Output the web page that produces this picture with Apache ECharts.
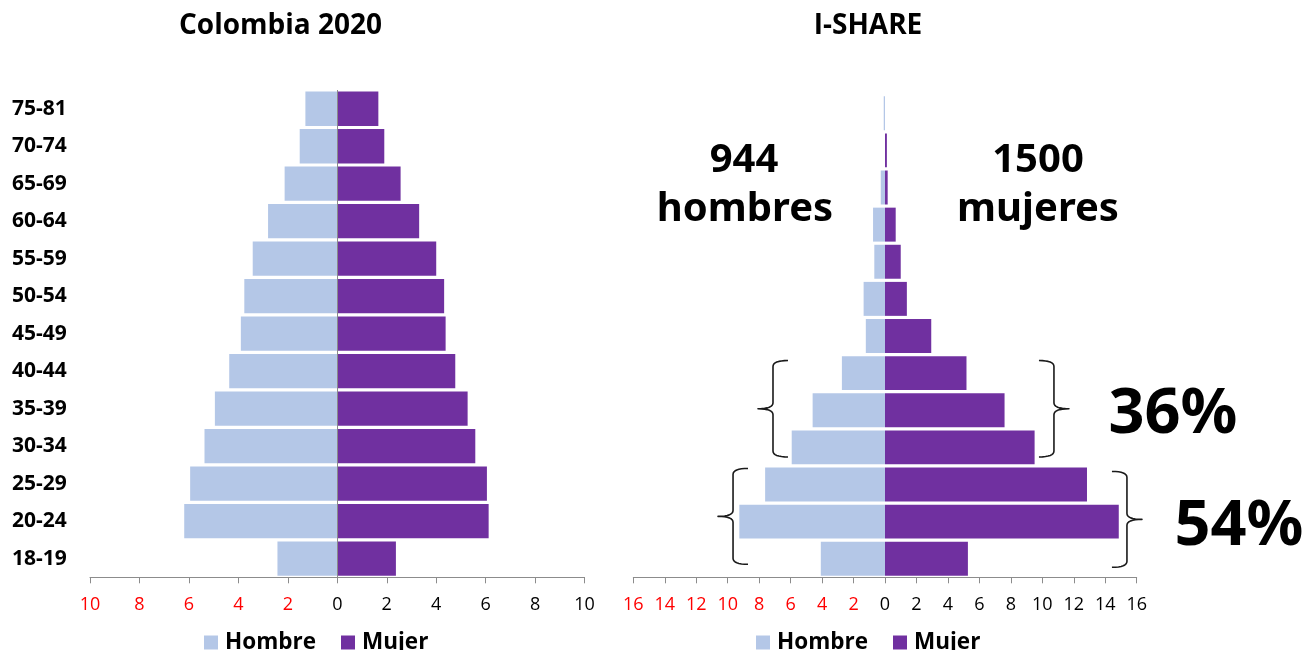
<!DOCTYPE html>
<html>
<head>
<meta charset="utf-8">
<script src="https://cdn.jsdelivr.net/npm/echarts@6/dist/echarts.min.js"></script>
<style>
html,body{margin:0;padding:0;background:#ffffff;}
#c{width:1304px;height:650px;}
</style>
</head>
<body>
<div id="c"></div>
<script>
// Age groups, bottom to top
const categories = ['18-19','20-24','25-29','30-34','35-39','40-44','45-49','50-54','55-59','60-64','65-69','70-74','75-81'];
// Colombia 2020 (% of population)
const colombiaHombre = [2.42, 6.19, 5.95, 5.37, 4.95, 4.37, 3.90, 3.76, 3.42, 2.80, 2.13, 1.52, 1.29];
const colombiaMujer  = [2.37, 6.12, 6.05, 5.58, 5.27, 4.77, 4.38, 4.32, 4.00, 3.31, 2.56, 1.90, 1.66];
// I-SHARE (% of participants)
const ishareHombre = [4.08, 9.26, 7.62, 5.93, 4.60, 2.74, 1.22, 1.36, 0.68, 0.76, 0.27, 0.00, 0.08];
const ishareMujer  = [5.27, 14.86, 12.84, 9.51, 7.60, 5.18, 2.94, 1.39, 1.00, 0.68, 0.17, 0.12, 0.00];
// Axis ticks
const colombiaTicks = [-10, -8, -6, -4, -2, 0, 2, 4, 6, 8, 10];
const ishareTicks = [-16, -14, -12, -10, -8, -6, -4, -2, 0, 2, 4, 6, 8, 10, 12, 14, 16];
const legendNames = ['Hombre', 'Mujer'];
const titles = ['Colombia 2020', 'I-SHARE'];
const annotations = ['944', 'hombres', '1500', 'mujeres', '36%', '54%'];

const C_H = '#B4C7E7';
const C_M = '#7030A0';
const AXIS_GRAY = '#8c8c8c';

const chart = echarts.init(document.getElementById('c'), null, {renderer: 'canvas'});

function xAxisCfg(gridIndex, ticks) {
  return {
    type: 'value', gridIndex: gridIndex,
    min: ticks[0], max: ticks[ticks.length - 1], interval: ticks[1] - ticks[0],
    axisLine: {show: true, onZero: false, lineStyle: {color: AXIS_GRAY, width: 1}},
    axisTick: {show: true, length: 6, lineStyle: {color: AXIS_GRAY}},
    splitLine: {show: false},
    axisLabel: {
      margin: 19, fontSize: 18, fontFamily: 'Open Sans',
      formatter: function (v) { return String(Math.abs(v)); },
      color: function (v) { return Number(v) < 0 ? '#FF0000' : '#000000'; }
    }
  };
}

function legendCfg(left) {
  return {
    left: left, top: 631, padding: 0, orient: 'horizontal',
    itemWidth: 14, itemHeight: 14, itemGap: 25, icon: 'rect',
    data: legendNames, selectedMode: false,
    textStyle: {fontFamily: 'Open Sans', fontWeight: 'bold', fontSize: 22.5, color: '#000', padding: [0, 0, 0, 2]}
  };
}

const option = {
  animation: false,
  backgroundColor: '#ffffff',
  grid: [
    {left: 90, top: 90, width: 494.6, height: 487.3, containLabel: false},
    {left: 633.3, top: 94.7, width: 503.4, height: 482.6, containLabel: false}
  ],
  xAxis: [xAxisCfg(0, colombiaTicks), xAxisCfg(1, ishareTicks)],
  yAxis: [
    {
      type: 'category', gridIndex: 0, data: categories,
      axisLine: {show: false}, axisTick: {show: false}, splitLine: {show: false},
      axisLabel: {show: true, align: 'left', margin: 78, fontSize: 21, fontWeight: 'bold', fontFamily: 'Open Sans', color: '#000'}
    },
    {
      type: 'category', gridIndex: 1, data: categories,
      axisLine: {show: false}, axisTick: {show: false}, splitLine: {show: false},
      axisLabel: {show: false}
    }
  ],
  legend: [legendCfg(204), legendCfg(756)],
  series: [
    {
      name: legendNames[0], type: 'bar', xAxisIndex: 0, yAxisIndex: 0, stack: 'col',
      data: colombiaHombre.map(function (v) { return -v; }),
      barCategoryGap: '8.5%', itemStyle: {color: C_H},
      markLine: {
        silent: true, symbol: 'none', label: {show: false},
        lineStyle: {color: '#8a8a8a', width: 1, type: 'solid'},
        data: [{xAxis: 0}]
      }
    },
    {
      name: legendNames[1], type: 'bar', xAxisIndex: 0, yAxisIndex: 0, stack: 'col',
      data: colombiaMujer, barCategoryGap: '8.5%', itemStyle: {color: C_M}
    },
    {
      name: legendNames[0], type: 'bar', xAxisIndex: 1, yAxisIndex: 1, stack: 'ish',
      data: ishareHombre.map(function (v) { return -v; }),
      barCategoryGap: '8.5%', itemStyle: {color: C_H}
    },
    {
      name: legendNames[1], type: 'bar', xAxisIndex: 1, yAxisIndex: 1, stack: 'ish',
      data: ishareMujer, barCategoryGap: '8.5%', itemStyle: {color: C_M}
    }
  ]
};

chart.setOption(option);

// ---- annotations (titles, counts, braces, percentages) ----
function px(v, catIdx) {
  return chart.convertToPixel({xAxisIndex: 1, yAxisIndex: 1}, [v, catIdx]);
}
const band = Math.abs(px(0, 0)[1] - px(0, 1)[1]);

function quad(p0, c, p1, n) {
  const out = [];
  for (let i = 1; i <= n; i++) {
    const t = i / n, u = 1 - t;
    out.push([u*u*p0[0] + 2*u*t*c[0] + t*t*p1[0], u*u*p0[1] + 2*u*t*c[1] + t*t*p1[1]]);
  }
  return out;
}
function bracePoints(x0, top, bottom, dir) {
  // dir = -1 : tip points left ; dir = +1 : tip points right
  const w = 15, t = 15, r = 6, n = 8;
  const mid = (top + bottom) / 2;
  let pts = [[x0 - dir * w, top]];
  pts = pts.concat(quad([x0 - dir * w, top], [x0, top], [x0, top + r], n));
  pts.push([x0, mid - r]);
  pts = pts.concat(quad([x0, mid - r], [x0, mid], [x0 + dir * t, mid], n));
  pts = pts.concat(quad([x0 + dir * t, mid], [x0, mid], [x0, mid + r], n));
  pts.push([x0, bottom - r]);
  pts = pts.concat(quad([x0, bottom - r], [x0, bottom], [x0 - dir * w, bottom], n));
  return pts;
}
// braces: category range (indices), value-space x of the vertical stroke, insets
const braceSpecs = [
  {fromIdx: 5, toIdx: 3, xv: -7.12, dir: -1, inTop: 6, inBot: 9},
  {fromIdx: 5, toIdx: 3, xv: 10.74, dir: 1, inTop: 6, inBot: 9},
  {fromIdx: 2, toIdx: 0, xv: -9.66, dir: -1, inTop: 2.5, inBot: 13},
  {fromIdx: 2, toIdx: 0, xv: 15.38, dir: 1, inTop: 5.5, inBot: 10}
];
const graphics = [];
braceSpecs.forEach(function (b, i) {
  const top = px(0, b.fromIdx)[1] - band / 2 + b.inTop;
  const bottom = px(0, b.toIdx)[1] + band / 2 - b.inBot;
  const x0 = px(b.xv, 0)[0];
  graphics.push({
    type: 'polyline', id: 'brace' + i, silent: true,
    shape: {points: bracePoints(x0, top, bottom, b.dir)},
    style: {stroke: '#1a1a1a', lineWidth: 1.6, fill: null, lineJoin: 'round'}
  });
});

function txt(id, text, x, y, font) {
  return {
    type: 'text', id: id, x: x, y: y, silent: true,
    style: {text: text, font: font, fill: '#000', align: 'center', verticalAlign: 'middle'}
  };
}
const titleFont = 'bold 28px "Open Sans"';
const annFont = 'bold 40px "Noto Sans"';
const pctFont = 'bold 63px "Noto Sans"';
graphics.push(txt('t0', titles[0], 280.5, 26.5, titleFont));
graphics.push(txt('t1', titles[1], 868, 26.5, titleFont));
graphics.push(txt('a0', annotations[0], 744, 160.5, annFont));
graphics.push(txt('a1', annotations[1], 745, 210, annFont));
graphics.push(txt('a2', annotations[2], 1038, 160.5, annFont));
graphics.push(txt('a3', annotations[3], 1038, 210, annFont));
graphics.push(txt('a4', annotations[4], 1173, 415, pctFont));
graphics.push(txt('a5', annotations[5], 1239, 527, pctFont));

chart.setOption({graphic: graphics});
</script>
</body>
</html>
